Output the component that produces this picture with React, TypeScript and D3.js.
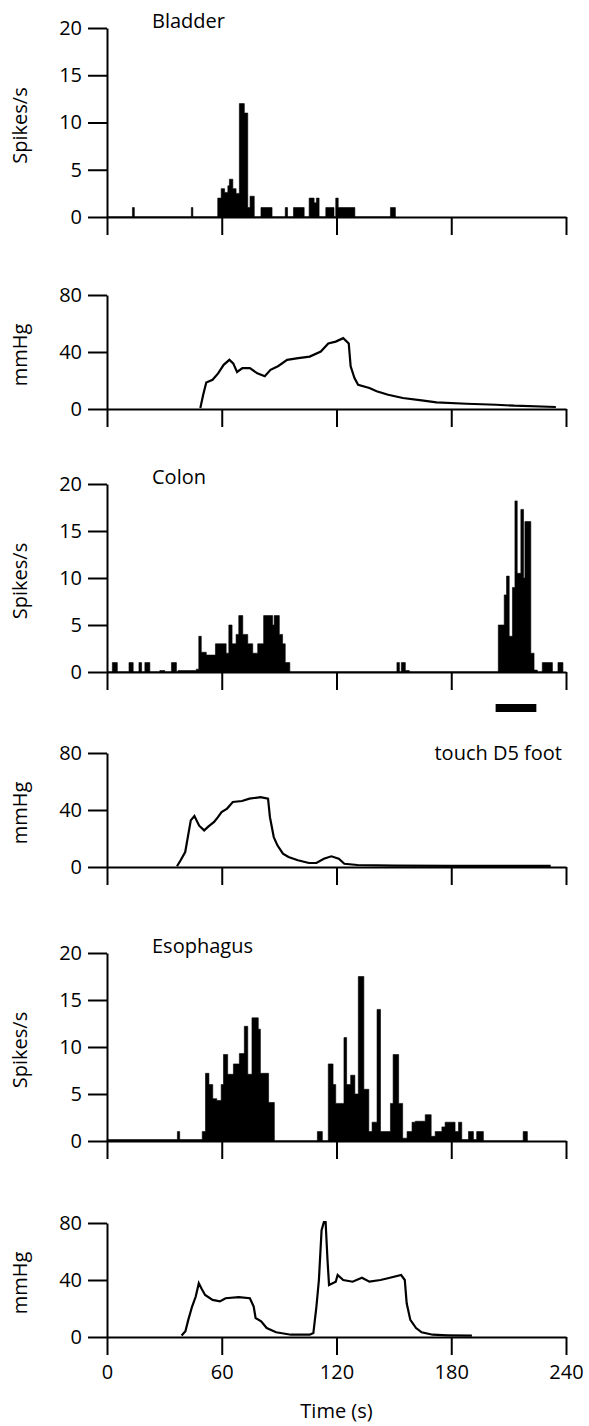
import { useEffect, useRef } from "react";
import * as d3 from "d3";

const W = 589;
const H = 1426;

const timeTicks = [0, 60, 120, 180, 240];
const spikeTicks = [0, 5, 10, 15, 20];
const pressureTicks = [0, 40, 80];

// spike histograms: each rate holds from its time to the next time (s, spikes/s)
const bladderT = [0, 13.3, 14.3, 44.1, 44.9, 57.9, 59.7, 61.5, 63.2, 64, 65.8, 67.5, 69.2, 71.8, 73.6, 74.8, 77, 80.5, 86.3, 93.2, 94.4, 97.5, 103.1, 105.7, 108.3, 109.5, 110.9, 114.4, 118.7, 119.6, 120.9, 129.6, 148.2, 150.8];
const bladderR = [0, 1, 0, 1, 0, 2, 3, 2.6, 3.3, 4, 3, 2.5, 12, 11, 1, 2.2, 0, 1, 0, 1, 0, 1, 0, 2, 1.5, 2, 0, 1, 0, 2, 1, 0, 1, 0];

const colonT = [0, 2.8, 5.4, 11.5, 13.7, 16.7, 18.1, 19.8, 22.4, 27.6, 30.2, 33.7, 36.3, 37.1, 46.7, 48, 49.3, 51.9, 56.7, 62.3, 63.7, 65.4, 67.5, 68.9, 71, 73.6, 76.2, 78.8, 81.9, 86.6, 87.4, 90.1, 91.8, 93.2, 95.6, 151.6, 152.9, 153.9, 156, 158.1, 204.6, 207.7, 208.9, 210.3, 212, 213.3, 214.5, 216.4, 217.8, 218.5, 221.6, 223.3, 225, 227.6, 232.9, 235.8, 238.4];
const colonR = [0, 1, 0, 1, 0, 1, 0, 1, 0, 0.15, 0, 1, 0, 0.15, 0.3, 3.8, 2.1, 1.8, 3, 2, 5, 3, 4, 6, 4, 3, 2, 3, 6, 5, 6, 4, 3, 1, 0, 1, 0, 1, 0.15, 0, 5, 8.2, 10.2, 3.8, 9, 18.2, 10.5, 17.3, 10, 16, 2, 0.2, 0, 1, 0, 1, 0];

const esophT = [0, 36.8, 38, 49.8, 51.5, 53.3, 55.3, 57.4, 59.7, 60.9, 63.1, 66.1, 69.2, 71.8, 73.6, 75.8, 79.1, 80.2, 84.5, 87.5, 110, 112.6, 115.7, 118.2, 119.6, 123.9, 125.3, 127.4, 129.6, 131.4, 134.3, 136.9, 138.6, 141.2, 143, 148.2, 149.6, 152.5, 154.6, 156.9, 159.5, 161.2, 166.4, 169.5, 171.6, 175.1, 176.8, 182, 183.8, 185.5, 189, 191.6, 193.3, 196.8, 217.6, 219.8];
const esophR = [0.15, 1, 0.15, 1, 7.2, 6, 4.5, 4.3, 6, 9.2, 7.1, 8.2, 9.3, 12.2, 7.1, 13.1, 11.9, 7.2, 4.1, 0, 1, 0, 8.2, 6, 4, 11, 6, 7, 5, 17.5, 5.5, 1, 2, 14, 1, 4, 9.2, 4, 0.3, 1, 2, 2.1, 2.8, 0.5, 1, 1.5, 2, 1, 2, 0.15, 1, 0.15, 1, 0, 1, 0];

// pressure traces (s, mmHg)
const bladderPT = [48.8, 50.3, 51.9, 55.2, 58.1, 61, 64, 66, 68, 70.8, 74.7, 78.6, 82.5, 85.5, 89.4, 94.2, 100, 106, 111.8, 115.7, 119.6, 123.5, 126.4, 127.4, 129.4, 131.3, 137.2, 141, 147, 154.7, 164.5, 172.3, 188, 203.5, 213, 234.7];
const bladderPV = [0.7, 10, 18.6, 20.5, 25, 31, 34.5, 32, 26, 28.7, 28.7, 25, 23, 27.5, 30, 34.5, 35.7, 36.8, 40.3, 46, 47.3, 49.7, 46, 30, 21.7, 17, 14.7, 12.4, 10, 7.7, 6, 4.7, 3.7, 3, 2.3, 1.4];

const colonPT = [36.6, 38.5, 40.9, 42.4, 43.8, 45.7, 48.2, 50.8, 53.1, 56, 58, 59.9, 62.8, 65.8, 70.6, 74.5, 80.3, 84.2, 85.2, 87.2, 89.1, 92, 94.9, 99.8, 105.6, 109.5, 113.4, 117.3, 121.2, 124.1, 131, 150, 180, 210, 232];
const colonPV = [0.5, 4.7, 10.5, 22, 32.7, 35.8, 29, 25.7, 28.5, 31.6, 35, 38.6, 41, 45.6, 46.3, 48, 49, 48, 35, 21, 15.2, 9.4, 7, 4.7, 2.8, 2.8, 5.8, 7.5, 5.8, 2.3, 1.4, 1, 0.8, 0.8, 0.8];

const esophPT = [39, 41, 42.5, 44.5, 46.4, 48, 49.4, 51.3, 55.2, 59, 62, 68.9, 74.7, 76.7, 77.7, 80.6, 83.5, 88.4, 96.2, 106, 107.9, 109.5, 110.8, 112.2, 113.4, 114.3, 115.3, 116.1, 119.6, 120.6, 123.5, 128.4, 133.3, 137.2, 143, 146.9, 153.8, 155.7, 156.7, 158.6, 161.6, 164.5, 170.3, 178.1, 190.8];
const esophPV = [1, 4, 12, 21.4, 28.4, 37.7, 34, 29.5, 26, 25, 27.2, 28, 27.2, 21.4, 13.3, 11, 6.3, 3.3, 1.6, 1.6, 2.8, 21.4, 40, 75, 80.7, 80.7, 54, 36.5, 38.8, 43.5, 40, 38.8, 41.6, 38.8, 40, 41.2, 43.5, 40, 23.7, 12, 6.3, 3.3, 1.6, 1.2, 0.9];

// stimulus bar under the colon histogram (s)
const touchStim = [203.2, 224.5];

const font = "'Open Sans', sans-serif";
const fs = 20;

type Panel = {
  kind: "spike" | "pressure";
  top: number;
  bottom: number;
  title?: string;
  t: number[];
  v: number[];
};

const panels: Panel[] = [
  { kind: "spike", top: 28, bottom: 217, title: "Bladder", t: bladderT, v: bladderR },
  { kind: "pressure", top: 295, bottom: 409, t: bladderPT, v: bladderPV },
  { kind: "spike", top: 484, bottom: 672, title: "Colon", t: colonT, v: colonR },
  { kind: "pressure", top: 753, bottom: 867, t: colonPT, v: colonPV },
  { kind: "spike", top: 953, bottom: 1141, title: "Esophagus", t: esophT, v: esophR },
  { kind: "pressure", top: 1223, bottom: 1337, t: esophPT, v: esophPV },
];

const x = d3.scaleLinear().domain([0, 240]).range([107, 566]);

export default function App() {
  const ref = useRef<SVGSVGElement>(null);

  useEffect(() => {
    if (!ref.current) return;
    const svg = d3.select(ref.current);
    svg.selectAll("*").remove();

    panels.forEach((p, idx) => {
      const isSpike = p.kind === "spike";
      const y = d3
        .scaleLinear()
        .domain(isSpike ? [0, 20] : [0, 80])
        .range([p.bottom, p.top]);
      const g = svg.append("g");

      // data first, axes drawn on top
      const pts: [number, number][] = p.t.map((t, i) => [t, p.v[i]]);
      if (isSpike) {
        const area = d3
          .area<[number, number]>()
          .x((d) => x(d[0]))
          .y0(y(0))
          .y1((d) => y(d[1]))
          .curve(d3.curveStepAfter);
        g.append("path")
          .attr("d", area(pts))
          .attr("fill", "#000")
          .attr("stroke", "#000")
          .attr("stroke-width", 0.6);
      } else {
        const line = d3
          .line<[number, number]>()
          .x((d) => x(d[0]))
          .y((d) => y(d[1]));
        g.append("path")
          .attr("d", line(pts))
          .attr("fill", "none")
          .attr("stroke", "#000")
          .attr("stroke-width", 2.2);
      }

      // x axis
      const isLast = idx === panels.length - 1;
      const xa = g
        .append("g")
        .attr("transform", `translate(0,${p.bottom})`)
        .call(
          d3
            .axisBottom(x)
            .tickValues(timeTicks)
            .tickSize(18)
            .tickSizeOuter(0)
            .tickPadding(10)
            .tickFormat((d) => (isLast ? String(d) : ""))
        );
      xa.select(".domain").attr("stroke-width", 2);
      xa.selectAll(".tick line").attr("stroke-width", 2);
      xa.selectAll("text").attr("font-family", font).attr("font-size", fs).attr("fill", "#000");

      // y axis
      const ya = g
        .append("g")
        .attr("transform", `translate(${x(0)},0)`)
        .call(
          d3
            .axisLeft(y)
            .tickValues(isSpike ? spikeTicks : pressureTicks)
            .tickSize(19)
            .tickSizeOuter(0)
            .tickPadding(6)
            .tickFormat(d3.format("d"))
        );
      ya.select(".domain").attr("stroke-width", 2);
      ya.selectAll(".tick line").attr("stroke-width", 2);
      ya.selectAll("text").attr("font-family", font).attr("font-size", fs).attr("fill", "#000");

      // axis title
      g.append("text")
        .attr("transform", `translate(27,${(p.top + p.bottom) / 2 + 3}) rotate(-90)`)
        .attr("text-anchor", "middle")
        .attr("font-family", font)
        .attr("font-size", fs)
        .text(isSpike ? "Spikes/s" : "mmHg");

      if (p.title) {
        g.append("text")
          .attr("x", 152)
          .attr("y", p.top)
          .attr("font-family", font)
          .attr("font-size", fs)
          .text(p.title);
      }
    });

    // touch stimulus marker and label
    svg
      .append("rect")
      .attr("x", x(touchStim[0]))
      .attr("width", x(touchStim[1]) - x(touchStim[0]))
      .attr("y", 704)
      .attr("height", 8)
      .attr("fill", "#000");
    svg
      .append("text")
      .attr("x", 562)
      .attr("y", 760)
      .attr("text-anchor", "end")
      .attr("font-family", font)
      .attr("font-size", fs)
      .text("touch D5 foot");

    svg
      .append("text")
      .attr("x", (x(0) + x(240)) / 2)
      .attr("y", 1418)
      .attr("text-anchor", "middle")
      .attr("font-family", font)
      .attr("font-size", fs)
      .text("Time (s)");
  }, []);

  return (
    <svg
      ref={ref}
      width={W}
      height={H}
      style={{ position: "absolute", left: 0, top: 0, background: "#fff" }}
    ></svg>
  );
}
